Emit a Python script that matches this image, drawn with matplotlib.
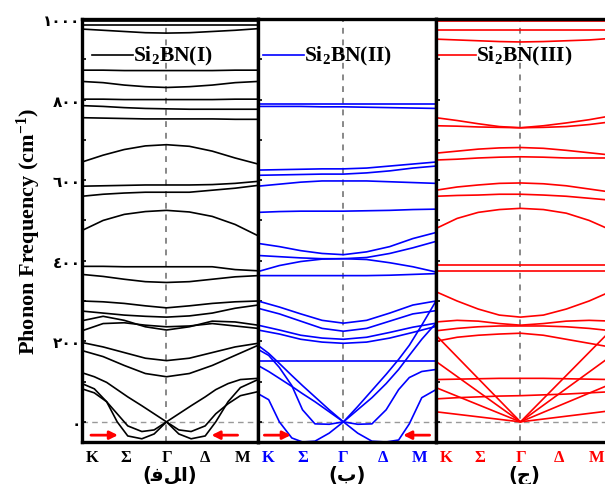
import matplotlib
matplotlib.use("Agg")
import matplotlib.pyplot as plt
import numpy as np

plt.rcParams["mathtext.fontset"] = "custom"
plt.rcParams["mathtext.rm"] = "Liberation Serif:bold"
plt.rcParams["mathtext.bf"] = "Liberation Serif:bold"
plt.rcParams["mathtext.default"] = "bf"

# ---------------- data ----------------
k_labels = ["K", "Σ", "Γ", "Δ", "M"]
k_label_pos = [0.06, 0.25, 0.48, 0.70, 0.91]
k_grid = [0.0, 0.12, 0.24, 0.36, 0.48, 0.61, 0.74, 0.87, 1.0]
gamma_pos = 0.48

# Panel I (black) optical bands (cm^-1) at k_grid
bands_I = [
    [996, 996, 996, 996, 996, 996, 996, 996, 996],
    [985, 985, 985, 985, 985, 985, 985, 985, 985],
    [975, 972, 969, 966, 965, 966, 969, 972, 976],
    [873, 873, 872, 872, 872, 872, 872, 873, 873],
    [845, 842, 836, 832, 830, 832, 836, 842, 845],
    [801, 801, 800, 800, 800, 800, 800, 801, 801],
    [785, 783, 780, 778, 777, 776, 776, 776, 776],
    [755, 754, 753, 752, 752, 752, 752, 751, 751],
    [645, 662, 676, 685, 688, 684, 672, 655, 640],
    [585, 586, 587, 588, 588, 588, 589, 592, 597],
    [560, 565, 568, 570, 570, 570, 575, 580, 587],
    [475, 500, 515, 522, 525, 521, 510, 490, 462],
    [386, 386, 385, 385, 385, 385, 385, 378, 375],
    [366, 361, 354, 348, 346, 348, 354, 360, 363],
    [300, 298, 294, 288, 283, 288, 294, 298, 300],
    [275, 270, 265, 262, 260, 263, 270, 282, 290],
    [251, 262, 252, 236, 228, 236, 250, 248, 240],
    [226, 244, 246, 240, 236, 238, 244, 238, 232],
    [197, 186, 172, 158, 152, 158, 172, 186, 195],
    [177, 162, 140, 120, 112, 120, 140, 165, 190],
]
# Panel I acoustic-like bands with their own k points
ac_k_I = [0.0, 0.07, 0.14, 0.2, 0.26, 0.34, 0.41, 0.48, 0.55, 0.62, 0.70,
          0.76, 0.83, 0.90, 1.0]
ac_I = [
    [95, 82, 50, 0, -35, -42, -30, 0, -30, -42, -35, 0, 50, 85, 105],
    [82, 72, 50, 20, -10, -24, -20, 0, -20, -24, -10, 20, 45, 65, 75],
    [122, 112, 98, 80, 62, 40, 20, 0, 20, 40, 62, 80, 95, 105, 108],
]

# Panel II (blue)
bands_II = [
    [790, 790, 790, 790, 790, 790, 790, 790, 790],
    [783, 783, 783, 782, 782, 781, 780, 779, 778],
    [625, 626, 627, 628, 628, 630, 635, 640, 645],
    [612, 613, 614, 615, 615, 618, 623, 630, 635],
    [585, 590, 595, 598, 598, 598, 596, 594, 592],
    [520, 522, 523, 523, 523, 524, 525, 527, 528],
    [443, 435, 425, 418, 415, 422, 435, 455, 470],
    [413, 410, 407, 405, 405, 408, 418, 432, 448],
    [373, 388, 398, 404, 405, 403, 395, 385, 372],
    [363, 363, 363, 363, 363, 363, 364, 366, 368],
    [300, 285, 268, 252, 245, 252, 270, 290, 300],
    [282, 268, 250, 232, 225, 232, 250, 268, 276],
    [240, 228, 215, 208, 205, 210, 222, 235, 245],
    [228, 218, 205, 198, 195, 198, 208, 222, 237],
    [150, 150, 150, 150, 150, 150, 150, 150, 150],
]
ac_k_II = [0.0, 0.06, 0.12, 0.19, 0.25, 0.32, 0.40, 0.48, 0.56, 0.64,
           0.72, 0.79, 0.85, 0.92, 1.0]
ac_II = [
    [70, 55, 0, -40, -50, -48, -28, 0, -28, -48, -50, -45, -5, 60, 80],
    [180, 165, 135, 90, 30, -5, -6, 0, -6, -5, 30, 80, 110, 125, 130],
    [190, 170, 145, 115, 90, 62, 30, 0, 38, 78, 118, 155, 190, 240, 300],
    [140, 125, 108, 88, 70, 50, 25, 0, 30, 60, 95, 130, 165, 205, 245],
]

# Panel III (red)
bands_III = [
    [995, 995, 995, 995, 995, 995, 995, 995, 995],
    [973, 973, 973, 973, 973, 973, 973, 973, 973],
    [950, 948, 946, 944, 943, 944, 946, 948, 952],
    [755, 748, 740, 733, 730, 735, 742, 750, 760],
    [735, 734, 732, 731, 730, 731, 733, 738, 745],
    [667, 672, 677, 680, 681, 679, 674, 668, 662],
    [650, 652, 655, 657, 658, 657, 655, 655, 655],
    [575, 583, 588, 592, 593, 591, 586, 578, 570],
    [560, 562, 563, 565, 565, 563, 560, 555, 550],
    [480, 505, 520, 527, 530, 527, 518, 500, 475],
    [390, 390, 390, 390, 390, 390, 390, 390, 390],
    [375, 375, 375, 375, 375, 375, 375, 375, 375],
    [323, 300, 280, 265, 260, 265, 280, 300, 325],
    [248, 252, 250, 244, 240, 244, 250, 252, 250],
    [226, 232, 236, 238, 238, 238, 236, 232, 226],
    [200, 210, 215, 218, 220, 215, 205, 195, 185],
    [105, 106, 107, 108, 108, 108, 107, 106, 105],
    [57, 60, 62, 64, 65, 67, 69, 72, 75],
]
ac_k_III = [0.0, 0.48, 1.0]
ac_III = [
    [215, 0, 230],
    [150, 0, 165],
    [85, 0, 95],
    [25, 0, 28],
]

panel_titles = ["Si$_2$BN(I)", "Si$_2$BN(II)", "Si$_2$BN(III)"]
panel_letters = ["(\ufed3\ufede\u0627)", "(\u0628)", "(\u062c)"]
panel_colors = ["black", "#0000ff", "#ff0000"]
ytick_vals = [0, 200, 400, 600, 800, 1000]
ytick_text = ["\u0660", "\u0662\u0660\u0660", "\u0664\u0660\u0660",
              "\u0666\u0660\u0660", "\u0668\u0660\u0660", "\u0661\u0660\u0660\u0660"]

# ---------------- figure ----------------
W, H = 605, 485
fig = plt.figure(figsize=(W / 100, H / 100), dpi=100)

left_px = [82, 258, 436]
width_px = [176, 178, 176]
top_px, bot_px = 20, 443
ymin, ymax = -50, 1000

all_bands = [bands_I, bands_II, bands_III]
all_ac = [(ac_k_I, ac_I), (ac_k_II, ac_II), (ac_k_III, ac_III)]
serif = "Liberation Serif"

legend_line = [(0.057, 0.29), (0.03, 0.26), (0.0, 0.225)]
arrows = [[(0.035, 0.22), (0.90, 0.72)], [(0.02, 0.20), (0.98, 0.80)], []]

for i in range(3):
    ax = fig.add_axes([left_px[i] / W, 1 - bot_px / H, width_px[i] / W,
                       (bot_px - top_px) / H])
    col = panel_colors[i]
    for b in all_bands[i]:
        ax.plot(k_grid, b, color=col, lw=1.2)
    kk, acs = all_ac[i]
    for b in acs:
        ax.plot(kk, b, color=col, lw=1.2)
    ax.axvline(gamma_pos, color="#888888", ls=(0, (3, 3)), lw=1.4, zorder=0)
    ax.axhline(0, color="#999999", ls=(0, (4, 3)), lw=1.0, zorder=0)
    ax.set_xlim(0, 1)
    ax.set_ylim(ymin, ymax)
    for s in ax.spines.values():
        s.set_linewidth(2.4)
    ax.set_xticks(k_label_pos)
    ax.set_xticklabels(k_labels, fontfamily=serif, fontweight="bold",
                       fontsize=12, color=col)
    ax.tick_params(axis="x", length=0, pad=5)
    ax.set_yticks(ytick_vals)
    ax.set_yticks(np.arange(100, 1000, 200), minor=True)
    ax.tick_params(axis="y", which="both", direction="in", length=3,
                   width=1.2, right=False)
    if i == 0:
        ax.set_yticklabels(ytick_text, fontfamily="DejaVu Sans",
                           fontweight="bold", fontsize=11)
        ax.tick_params(axis="y", pad=1)
        ax.set_ylabel("Phonon Frequency (cm$^{-1}$)",
                      fontfamily=serif, fontweight="bold", fontsize=16,
                      labelpad=0)
    else:
        ax.set_yticklabels([])
    ax.set_xlabel(panel_letters[i], fontfamily="DejaVu Sans",
                  fontweight="bold", fontsize=14, labelpad=0)
    # legend-like label
    yl = 910
    x0, x1 = legend_line[i]
    ax.plot([x0, x1], [yl, yl], color=col, lw=1.2, clip_on=False)
    ax.text(x1, yl, panel_titles[i], fontfamily=serif,
            fontweight="bold", fontsize=15.5, va="center", ha="left")
    # red arrows
    for (xs, xe) in arrows[i]:
        ax.annotate("", xy=(xe, -33), xytext=(xs, -33),
                    arrowprops=dict(arrowstyle="-|>", color="red", lw=2,
                                    mutation_scale=12))

fig.savefig("out.png", dpi=100)
